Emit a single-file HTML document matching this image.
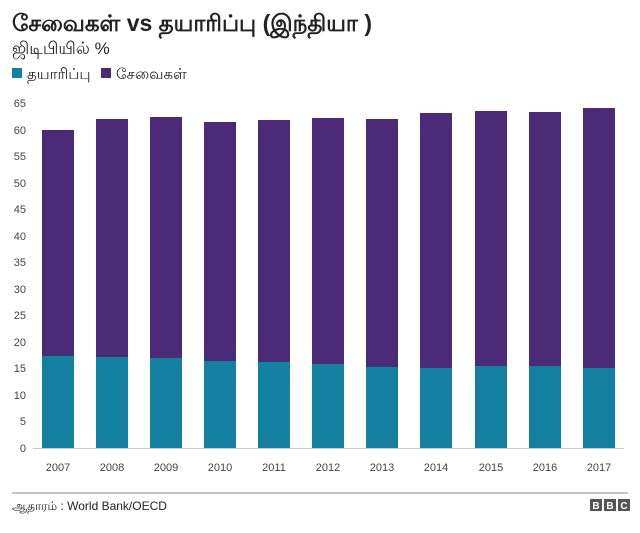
<!DOCTYPE html>
<html><head><meta charset="utf-8"><style>
body{margin:0;background:#fff;width:640px;height:528px;overflow:hidden;font-family:"Liberation Sans",sans-serif}
</style></head><body>
<svg width="640" height="528" xmlns="http://www.w3.org/2000/svg" font-family="Liberation Sans, sans-serif">
<text x="12" y="31" font-size="23" font-weight="bold" fill="#222">சேவைகள் vs தயாரிப்பு (இந்தியா )</text>
<text x="12" y="54" font-size="17" fill="#222">ஜிடிபியில்  %</text>
<rect x="12" y="68" width="10" height="10" fill="#1380A1"/>
<text x="27" y="79" font-size="15" fill="#222">தயாரிப்பு</text>
<rect x="101" y="68" width="10" height="10" fill="#4B2A77"/>
<text x="116" y="79" font-size="15" fill="#222">சேவைகள்</text>
<g font-size="11" fill="#444" text-anchor="end">
<text x="26" y="452">0</text><text x="26" y="425">5</text><text x="26" y="399">10</text><text x="26" y="372">15</text><text x="26" y="346">20</text><text x="26" y="319">25</text><text x="26" y="293">30</text><text x="26" y="266">35</text><text x="26" y="240">40</text><text x="26" y="213">45</text><text x="26" y="187">50</text><text x="26" y="160">55</text><text x="26" y="134">60</text><text x="26" y="107">65</text>
</g>
<g fill="#4B2A77">
<rect x="42" y="130" width="32" height="318"/>
<rect x="96" y="119" width="32" height="329"/>
<rect x="150" y="117" width="32" height="331"/>
<rect x="204" y="122" width="32" height="326"/>
<rect x="258" y="120" width="32" height="328"/>
<rect x="312" y="118" width="32" height="330"/>
<rect x="366" y="119" width="32" height="329"/>
<rect x="420" y="113" width="32" height="335"/>
<rect x="475" y="111" width="32" height="337"/>
<rect x="529" y="112" width="32" height="336"/>
<rect x="583" y="108" width="32" height="340"/>
</g>
<g fill="#1380A1">
<rect x="42" y="356" width="32" height="92"/>
<rect x="96" y="357" width="32" height="91"/>
<rect x="150" y="358" width="32" height="90"/>
<rect x="204" y="361" width="32" height="87"/>
<rect x="258" y="362" width="32" height="86"/>
<rect x="312" y="364" width="32" height="84"/>
<rect x="366" y="367" width="32" height="81"/>
<rect x="420" y="368" width="32" height="80"/>
<rect x="475" y="366" width="32" height="82"/>
<rect x="529" y="366" width="32" height="82"/>
<rect x="583" y="368" width="32" height="80"/>
</g>
<line x1="33" y1="448.5" x2="624" y2="448.5" stroke="#ccc" stroke-width="1"/>
<g font-size="11" fill="#444" text-anchor="middle">
<text x="58" y="471">2007</text><text x="112" y="471">2008</text><text x="166" y="471">2009</text><text x="220" y="471">2010</text><text x="274" y="471">2011</text><text x="328" y="471">2012</text><text x="382" y="471">2013</text><text x="436" y="471">2014</text><text x="491" y="471">2015</text><text x="545" y="471">2016</text><text x="599" y="471">2017</text>
</g>
<line x1="12" y1="493" x2="628" y2="493" stroke="#888" stroke-width="1"/>
<text x="12" y="510" font-size="12" fill="#222">ஆதாரம் :  World  Bank/OECD</text>
<g font-size="10" font-weight="bold" fill="#fff" text-anchor="middle">
<rect x="590" y="499" width="12" height="12" fill="#555"/><text x="596" y="509">B</text>
<rect x="604" y="499" width="12" height="12" fill="#555"/><text x="610" y="509">B</text>
<rect x="618" y="499" width="12" height="12" fill="#555"/><text x="624" y="509">C</text>
</g>
</svg>
</body></html>
